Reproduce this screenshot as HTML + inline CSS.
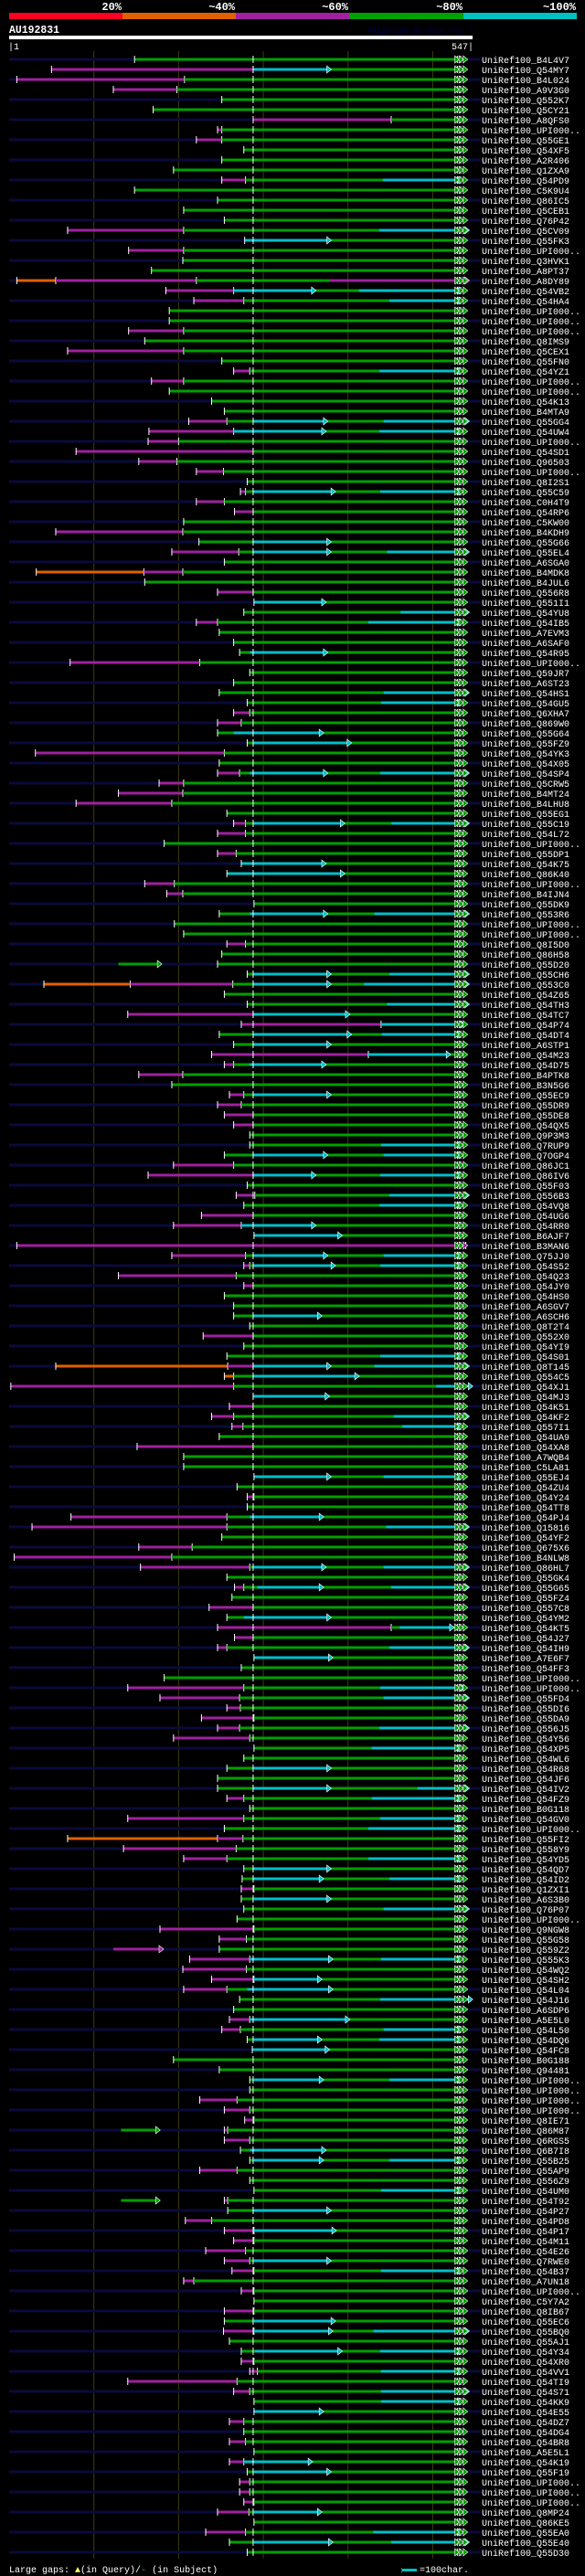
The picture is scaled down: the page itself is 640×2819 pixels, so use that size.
<!DOCTYPE html>
<html><head><meta charset="utf-8"><title>AlignView AU192831</title>
<style>
html,body{margin:0;padding:0;background:#000;}
svg{display:block;}
text{font-family:"Liberation Mono","DejaVu Sans Mono",monospace;}
</style></head>
<body>
<svg id="chart" width="640" height="2819" viewBox="0 0 640 2819" xmlns="http://www.w3.org/2000/svg">
<rect x="0" y="0" width="640" height="2819" fill="#000"/>
<g>
<rect x="10" y="14" width="124" height="7" fill="#ff0022"/>
<rect x="134" y="14" width="124" height="7" fill="#e06000"/>
<rect x="258" y="14" width="124" height="7" fill="#a020a0"/>
<rect x="382" y="14" width="125" height="7" fill="#00a000"/>
<rect x="507" y="14" width="124" height="7" fill="#00c0c0"/>
<text x="133" y="11" text-anchor="end" fill="#fff" font-size="12" font-weight="bold">20%</text>
<text x="257" y="11" text-anchor="end" fill="#fff" font-size="12" font-weight="bold">~40%</text>
<text x="381" y="11" text-anchor="end" fill="#fff" font-size="12" font-weight="bold">~60%</text>
<text x="506" y="11" text-anchor="end" fill="#fff" font-size="12" font-weight="bold">~80%</text>
<text x="630" y="11" text-anchor="end" fill="#fff" font-size="12" font-weight="bold">~100%</text>
</g>
<text x="10" y="36" fill="#fff" font-size="12" font-weight="bold" textLength="55" lengthAdjust="spacingAndGlyphs">AU192831</text>
<text x="402" y="36" fill="#000044" font-size="10" textLength="115" lengthAdjust="spacingAndGlyphs">AlignView.pm Beta rel.7</text>
<rect x="10" y="39" width="507" height="4" fill="#fff"/>
<text x="9" y="54" fill="#fff" font-size="10">|1</text>
<text x="518" y="54" text-anchor="end" fill="#fff" font-size="10">547|</text>
<g id="grid"></g>
<g id="rows"></g>
<g>
<text x="10" y="2815" fill="#fff" font-size="10">Large gaps: <tspan fill="#ffff66">▲</tspan>(in Query)/<tspan fill="#00c0c0">-</tspan> (in Subject)</text>
<rect x="439" y="2810" width="1" height="6" fill="#606000"/>
<rect x="440" y="2811" width="16" height="3" fill="#00c0c0"/>
<text x="459" y="2815" fill="#fff" font-size="10">=100char.</text>
</g>
</svg>
<script>
const QLEN = 547;
const QEND = 537;
const gridTicks = [100, 200, 300, 400, 500];
const names = ["B4L4V7","Q54MY7","B4L024","A9V3G0","Q552K7","Q5CY21","A8QFS0","U","Q55GE1","Q54XF5",
"A2R406","Q1ZXA9","Q54PD9","C5K9U4","Q86IC5","Q5CEB1","Q76P42","Q5CV09","Q55FK3","U",
"Q3HVK1","A8PT37","A8DY89","Q54VB2","Q54HA4","U","U","U","Q8IMS9","Q5CEX1",
"Q55FN0","Q54YZ1","U","U","Q54K13","B4MTA9","Q55GG4","Q54UW4","U","Q54SD1",
"Q96503","U","Q8I2S1","Q55C59","C0H4T9","Q54RP6","C5KW00","B4KDH9","Q55G66","Q55EL4",
"A6SGA0","B4MDK8","B4JUL6","Q556R8","Q551I1","Q54YU8","Q54IB5","A7EVM3","A6SAF0","Q54R95",
"U","Q59JR7","A6ST23","Q54HS1","Q54GU5","Q6XHA7","Q869W0","Q55G64","Q55FZ9","Q54YK3",
"Q54X05","Q54SP4","Q5CRW5","B4MT24","B4LHU8","Q55EG1","Q55C19","Q54L72","U","Q55DP1",
"Q54K75","Q86K40","U","B4IJN4","Q55DK9","Q553R6","U","U","Q8I5D0","Q86H58",
"Q55D20","Q55CH6","Q553C0","Q54Z65","Q54TH3","Q54TC7","Q54P74","Q54DT4","A6STP1","Q54M23",
"Q54D75","B4PTK8","B3N5G6","Q55EC9","Q55DR9","Q55DE8","Q54QX5","Q9P3M3","Q7RUP9","Q7OGP4",
"Q86JC1","Q86IV6","Q55F03","Q556B3","Q54VQ8","Q54UG6","Q54RR0","B6AJF7","B3MAN6","Q75JJ0",
"Q54S52","Q54Q23","Q54JY0","Q54HS0","A6SGV7","A6SCH6","Q8T2T4","Q552X0","Q54YI9","Q54S01",
"Q8T145","Q554C5","Q54XJ1","Q54MJ3","Q54K51","Q54KF2","Q557I1","Q54UA9","Q54XA8","A7WQB4",
"C5LA81","Q55EJ4","Q54ZU4","Q54Y24","Q54TT8","Q54PJ4","Q15816","Q54YF2","Q675X6","B4NLW8",
"Q86HL7","Q55GK4","Q55G65","Q55FZ4","Q557C8","Q54YM2","Q54KT5","Q54J27","Q54IH9","A7E6F7",
"Q54FF3","U","U","Q55FD4","Q55DI6","Q55DA9","Q556J5","Q54Y56","Q54XP5","Q54WL6",
"Q54R68","Q54JF6","Q54IV2","Q54FZ9","B0G118","Q54GV0","U","Q55FI2","Q558Y9","Q54YD5",
"Q54QD7","Q54ID2","Q1ZXI1","A6S3B0","Q76P07","U","Q9NGW8","Q55G58","Q559Z2","Q555K3",
"Q54WQ2","Q54SH2","Q54L04","Q54J16","A6SDP6","A5E5L0","Q54L50","Q54DQ6","Q54FC8","B0G188",
"Q94481","U","U","U","U","Q8IE71","Q86M87","Q6RGS5","Q6B7I8","Q55B25",
"Q55AP9","Q556Z9","Q54UM0","Q54T92","Q54P27","Q54PD8","Q54P17","Q54M11","Q54E26","Q7RWE0",
"Q54B37","A7UN18","U","C5Y7A2","Q8IB67","Q55EC6","Q55BQ0","Q55AJ1","Q54Y34","Q54XR0",
"Q54VV1","Q54TI9","Q54S71","Q54KK9","Q54E55","Q54DZ7","Q54DG4","Q54BR8","A5E5L1","Q54K19",
"Q55F19","U","U","U","Q8MP24","Q86KE5","Q55EA0","Q55E40","Q55D30"];
const alnStart = [148,50,9,123,251,170,288,246,221,277,
251,194,251,148,246,206,254,69,278,141,
205,168,9,185,218,189,189,141,160,69,
251,265,168,189,239,254,212,165,164,79,
153,221,281,273,221,266,206,55,224,192,
254,32,160,246,289,277,221,248,265,272,
72,284,265,248,281,265,246,246,281,31,
248,246,177,129,79,257,265,246,183,246,
274,257,160,186,289,248,195,206,257,251,
246,281,41,254,281,140,274,248,265,239,
254,153,192,260,246,254,265,284,284,254,
194,164,281,268,277,227,194,289,9,192,
277,129,277,254,265,265,284,229,277,257,
55,254,2,288,260,239,263,248,151,206,
206,289,269,281,281,73,27,251,153,6,
155,257,266,263,236,257,246,266,246,289,
274,183,140,178,257,227,246,194,289,277,
257,246,246,257,284,140,254,69,135,206,
277,275,274,274,277,269,178,248,248,213,
205,239,206,272,265,260,251,281,287,194,
248,284,284,225,254,278,254,254,273,284,
225,284,289,254,258,208,254,265,232,254,
263,206,274,289,254,254,253,260,274,274,
284,140,265,289,289,260,277,260,289,260,
281,272,272,277,246,289,232,260,281];
const purpleEnd = [0,288,207,198,0,0,451,251,251,0,
0,0,279,0,0,0,0,206,0,206,
0,0,221,265,277,0,0,206,0,206,
0,284,206,0,0,0,257,265,200,288,
198,253,0,279,254,288,0,205,0,271,
0,205,0,288,0,0,246,0,0,0,
225,0,0,0,0,284,274,0,0,254,
0,272,206,205,192,0,279,279,0,268,
0,0,195,205,0,0,0,0,279,0,
0,0,264,0,0,288,439,0,0,424,
265,205,0,277,274,288,288,0,0,0,
265,288,0,290,0,288,274,0,539,279,
284,268,288,0,0,0,0,288,0,0,
288,0,265,0,288,265,276,0,288,0,
0,0,0,289,0,257,257,0,216,192,
284,0,277,0,288,0,451,288,257,0,
0,0,277,272,273,289,272,284,0,0,
0,0,0,277,0,277,0,276,268,257,
0,0,289,0,0,0,289,280,0,284,
280,289,257,0,0,284,273,0,0,0,
0,0,0,269,284,289,258,284,0,0,
269,0,0,258,0,239,289,289,279,284,
289,218,289,0,289,0,289,0,0,289,
293,269,284,0,0,277,0,279,0,277,
0,284,284,289,283,0,279,0,0];
const orangeRow = [22,51,92,130,131,177];
const orangeEnd = [55,159,143,258,265,246];
const cyanRow = [1,12,17,18,23,23,24,31,36,36,37,37,43,43,48,49,49,54,55,56,59,63,64,67,68,71,71,76,76,80,81,85,85,91,91,92,92,94,95,96,97,97,98,99,100,103,108,109,109,111,111,113,114,116,117,119,119,120,120,125,129,130,130,131,132,133,135,136,141,141,145,146,150,150,152,152,155,156,158,159,162,163,166,168,170,172,172,173,175,176,179,180,181,181,183,184,189,189,191,192,193,195,196,197,197,198,201,201,208,209,209,212,214,216,219,220,225,226,226,228,228,230,232,233,234,239,240,244,246,247,247];
const cyanStart = [288,441,437,278,265,413,449,437,288,442,265,437,288,438,288,288,446,289,462,424,284,442,439,265,288,284,438,288,451,274,257,284,431,288,449,288,419,446,288,439,288,440,288,424,284,288,439,288,442,288,438,449,437,274,289,288,442,288,438,288,438,288,431,288,504,288,454,464,289,442,284,445,288,442,293,451,277,461,449,289,438,442,437,428,289,288,482,428,438,424,424,288,288,449,289,442,284,439,289,281,438,284,442,289,437,287,289,449,284,289,449,439,288,289,289,439,289,289,430,290,438,439,439,439,289,277,289,289,430,289,451];
const cyanEnd = [376,530,539,376,358,530,530,530,372,539,370,530,381,530,376,376,539,370,539,530,372,539,530,367,400,372,539,392,539,370,392,372,539,376,539,376,539,539,398,534,400,530,376,517,370,376,530,372,530,358,530,539,530,358,389,372,530,381,530,365,530,376,539,409,543,374,539,530,376,530,367,539,370,539,367,539,376,521,539,378,534,539,539,530,376,376,539,530,530,530,530,376,367,530,376,539,378,530,365,378,543,398,530,365,530,374,367,530,370,367,530,530,376,382,376,530,381,378,539,389,530,530,539,530,367,354,376,365,530,378,539];
const extraRow = [22,90,188,206,213];
const extraStart = [378,129,123,132,132];
const extraEnd = [539,176,178,174,174];
const extraKind = ["p","g","p","g","g"];

const NS = "http://www.w3.org/2000/svg";
const X0 = 10, X1 = 517;
function xScale(c){ return X0 + c * (X1 - X0) / QLEN; }
function yRow(i){ return 65 + i * 11; }
const COL = {o:"#e06000", p:"#a020a0", g:"#00a000", c:"#00c0c8"};
function mk(tag, attrs, parent){
  const el = document.createElementNS(NS, tag);
  for (const k in attrs) el.setAttribute(k, attrs[k]);
  parent.appendChild(el);
  return el;
}
const grid = document.getElementById("grid");
gridTicks.forEach(function(t){
  const l = mk("line", {x1:xScale(t), x2:xScale(t), y1:56, y2:2800, stroke:"#3c3c12", "stroke-width":1}, grid);
  
  
});
const rows = document.getElementById("rows");
function seg(g, a, b, y, kind){
  if (b <= a) return;
  const r = mk("rect", {x:xScale(a), y:y-1.5, width:xScale(b)-xScale(a), height:3, fill:COL[kind]}, g);
  
  
}
function arrow(g, c, y, kind){
  const x = xScale(c);
  const p = mk("polygon", {points:(x-1)+","+(y-4)+" "+(x+4)+","+y+" "+(x-1)+","+(y+4), fill:COL[kind], stroke:"#fff", "stroke-width":0.6}, g);
  
  
}
function tick(g, c, y){
  const t = mk("rect", {x:xScale(c)-0.5, y:y-4, width:1, height:8, fill:"#fff"}, g);
  
  
}
for (let i = 0; i < names.length; i++){
  const y = yRow(i);
  const g = mk("g", {}, rows);
  
  
  if (i % 2 === 0){
    const bg = mk("rect", {x:10, y:y-1.5, width:516, height:3, fill:"#0a0a3c"}, g);
    
    
  }
  const s = alnStart[i];
  let cur = s;
  const oi = orangeRow.indexOf(i);
  if (oi >= 0){ seg(g, s, orangeEnd[oi], y, "o"); cur = orangeEnd[oi]; tick(g, cur, y); }
  if (purpleEnd[i] > cur){ seg(g, cur, purpleEnd[i], y, "p"); cur = purpleEnd[i]; tick(g, cur, y); }
  if (cur < QEND) seg(g, cur, QEND, y, "g");
  for (let k = 0; k < cyanRow.length; k++){
    if (cyanRow[k] !== i) continue;
    seg(g, cyanStart[k], cyanEnd[k], y, "c");
    arrow(g, cyanEnd[k], y, "c");
  }
  for (let k = 0; k < extraRow.length; k++){
    if (extraRow[k] !== i) continue;
    seg(g, extraStart[k], extraEnd[k], y, extraKind[k]);
    arrow(g, extraEnd[k], y, extraKind[k]);
  }
  tick(g, s, y);
  if (s < 286) tick(g, 288, y);
  tick(g, 529, y);
  tick(g, 533, y);
  arrow(g, 527, y, "g");
  arrow(g, 532, y, "g");
  arrow(g, QEND, y, purpleEnd[i] >= QEND ? "p" : "g");
  const full = names[i] === "U" ? "UniRef100_UPI000.." : "UniRef100_" + names[i];
  const t = mk("text", {x:527, y:y+4, fill:"#fff", "font-size":10, textLength:full.length*6, lengthAdjust:"spacingAndGlyphs"}, g);
  
  
  t.textContent = full;
}
</script>
</body></html>
